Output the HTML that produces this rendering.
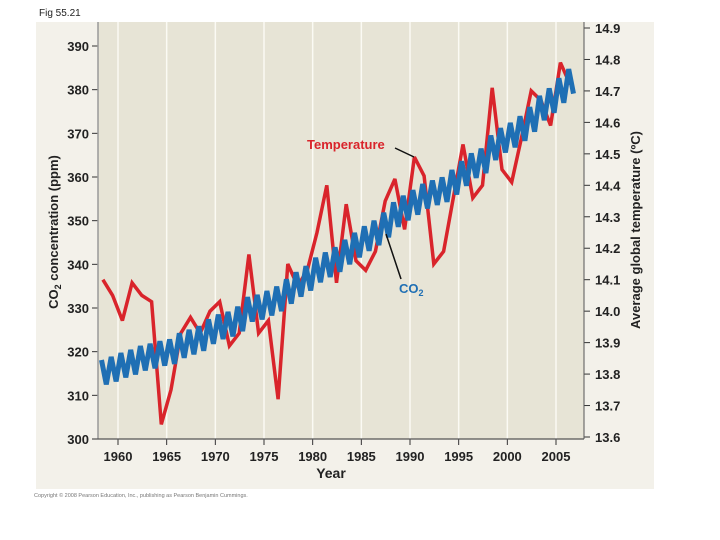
<!DOCTYPE html>
<html><head><meta charset="utf-8"><style>
html,body{margin:0;padding:0;background:#fff;width:720px;height:540px;overflow:hidden}
svg{display:block;font-family:"Liberation Sans",sans-serif}
</style></head><body>
<svg id="chart" width="720" height="540" viewBox="0 0 720 540">
<text x="39" y="16" font-size="10" fill="#222">Fig 55.21</text>
<rect x="36" y="22" width="618" height="467" fill="#f3f1ea"/>
<rect x="98" y="22" width="486" height="417" fill="#e7e4d6"/>
<g id="grid"></g>
<g id="axes"></g>
<g id="series"></g>
<text x="58" y="232" font-size="13" font-weight="bold" fill="#222" text-anchor="middle" transform="rotate(-90 58 232)">CO<tspan font-size="9" dy="3">2</tspan><tspan dy="-3"> concentration (ppm)</tspan></text>
<text x="640" y="230" font-size="13" font-weight="bold" fill="#222" text-anchor="middle" transform="rotate(-90 640 230)">Average global temperature (ºC)</text>
<text x="331" y="478" font-size="14" font-weight="bold" fill="#222" text-anchor="middle">Year</text>
<text x="307" y="149" font-size="13" font-weight="bold" fill="#d9242b">Temperature</text>
<line x1="395" y1="148" x2="414" y2="157" stroke="#111" stroke-width="1.5"/>
<text x="399" y="293" font-size="13" font-weight="bold" fill="#1f6fb4">CO<tspan font-size="9" dy="3">2</tspan></text>
<line x1="386" y1="234" x2="401" y2="279" stroke="#111" stroke-width="1.5"/>
<text x="34" y="497" font-size="5.5" fill="#777">Copyright © 2008 Pearson Education, Inc., publishing as Pearson Benjamin Cummings.</text>
</svg>
<script>
const xTicks=[1960,1965,1970,1975,1980,1985,1990,1995,2000,2005];
const leftTicks=[300,310,320,330,340,350,360,370,380,390];
const rightTicks=[13.6,13.7,13.8,13.9,14.0,14.1,14.2,14.3,14.4,14.5,14.6,14.7,14.8,14.9];
const tempYears=[1958,1959,1960,1961,1962,1963,1964,1965,1966,1967,1968,1969,1970,1971,1972,1973,1974,1975,1976,1977,1978,1979,1980,1981,1982,1983,1984,1985,1986,1987,1988,1989,1990,1991,1992,1993,1994,1995,1996,1997,1998,1999,2000,2001,2002,2003,2004,2005,2006];
const tempValues=[14.10,14.05,13.97,14.09,14.05,14.03,13.64,13.75,13.93,13.98,13.93,14.00,14.03,13.89,13.93,14.18,13.93,13.97,13.72,14.15,14.08,14.13,14.25,14.40,14.09,14.34,14.16,14.13,14.19,14.35,14.42,14.26,14.49,14.43,14.15,14.19,14.36,14.53,14.36,14.40,14.71,14.45,14.41,14.55,14.70,14.67,14.59,14.79,14.72];
const co2Years=[1958,1959,1960,1961,1962,1963,1964,1965,1966,1967,1968,1969,1970,1971,1972,1973,1974,1975,1976,1977,1978,1979,1980,1981,1982,1983,1984,1985,1986,1987,1988,1989,1990,1991,1992,1993,1994,1995,1996,1997,1998,1999,2000,2001,2002,2003,2004,2005,2006];
const co2Mean=[315.3,316.0,316.9,317.6,318.5,319.0,319.6,320.0,321.4,322.2,323.0,324.6,325.7,326.3,327.5,329.7,330.2,331.1,332.1,333.8,335.4,336.8,338.7,339.9,341.1,342.8,344.4,345.9,347.2,349.0,351.4,352.9,354.2,355.6,356.4,357.1,358.8,360.8,362.6,363.7,366.7,368.4,369.6,371.1,373.2,375.8,377.5,379.8,381.9];
const co2Swing=[2.8,2.8,2.8,2.8,2.8,2.8,2.8,2.8,2.8,2.8,2.8,2.8,2.8,2.8,2.8,2.8,2.8,2.8,2.8,2.8,2.8,2.8,2.8,2.8,2.8,2.8,2.8,2.8,2.8,2.8,2.8,2.8,2.8,2.8,2.8,2.8,2.8,2.8,2.8,2.8,2.8,2.8,2.8,2.8,2.8,2.8,2.8,2.8,2.8];

const NS='http://www.w3.org/2000/svg';
const xS=y=>118+(y-1960)*(556-118)/45;
const yL=v=>439-(v-300)*(439-46)/90;
const yR=v=>437-(v-13.6)*(437-28)/1.3;
function mk(tag,attrs,parent){const e=document.createElementNS(NS,tag);for(const k in attrs)e.setAttribute(k,attrs[k]);parent.appendChild(e);return e;}
const grid=document.getElementById('grid'),axes=document.getElementById('axes'),series=document.getElementById('series');

xTicks.forEach(t=>{
  const g=mk('line',{x1:xS(t),x2:xS(t),y1:22,y2:439,stroke:'#fbfaf4','stroke-width':1.5},grid);
  
  
  const tk=mk('line',{x1:xS(t),x2:xS(t),y1:439,y2:445,stroke:'#333','stroke-width':1},axes);
  
  
  const lb=mk('text',{x:xS(t),y:461,'font-size':13,'font-weight':'bold',fill:'#222','text-anchor':'middle'},axes);
  lb.textContent=t;
  
  
});
leftTicks.forEach(t=>{
  const tk=mk('line',{x1:92,x2:98,y1:yL(t),y2:yL(t),stroke:'#333','stroke-width':1},axes);
  
  
  const lb=mk('text',{x:89,y:yL(t)+5,'font-size':13,'font-weight':'bold',fill:'#222','text-anchor':'end'},axes);
  lb.textContent=t;
  
  
});
rightTicks.forEach(t=>{
  const tk=mk('line',{x1:584,x2:590,y1:yR(t),y2:yR(t),stroke:'#333','stroke-width':1},axes);
  
  
  const lb=mk('text',{x:595,y:yR(t)+5,'font-size':13,'font-weight':'bold',fill:'#222'},axes);
  lb.textContent=t.toFixed(1);
  
  
});
const la=mk('line',{x1:98,x2:98,y1:22,y2:439,stroke:'#999','stroke-width':1.5},axes);


const ra=mk('line',{x1:584,x2:584,y1:22,y2:439,stroke:'#555','stroke-width':1},axes);


const ba=mk('line',{x1:92,x2:584,y1:439,y2:439,stroke:'#555','stroke-width':1.2},axes);



let pts=[];
co2Years.forEach((y,i)=>{
  pts.push(xS(y+0.3).toFixed(1)+','+yL(co2Mean[i]+co2Swing[i]).toFixed(1));
  pts.push(xS(y+0.8).toFixed(1)+','+yL(co2Mean[i]-co2Swing[i]).toFixed(1));
});
const co2=mk('polyline',{points:pts.join(' '),fill:'none',stroke:'#1f6fb4','stroke-width':5,'stroke-linejoin':'miter','stroke-miterlimit':3},series);



const tp=tempYears.map((y,i)=>xS(y+0.45).toFixed(1)+','+yR(tempValues[i]).toFixed(1));
const temp=mk('polyline',{points:tp.join(' '),fill:'none',stroke:'#d9242b','stroke-width':3.5,'stroke-linejoin':'miter','stroke-miterlimit':3},series);


series.appendChild(co2);
</script>
</body></html>
